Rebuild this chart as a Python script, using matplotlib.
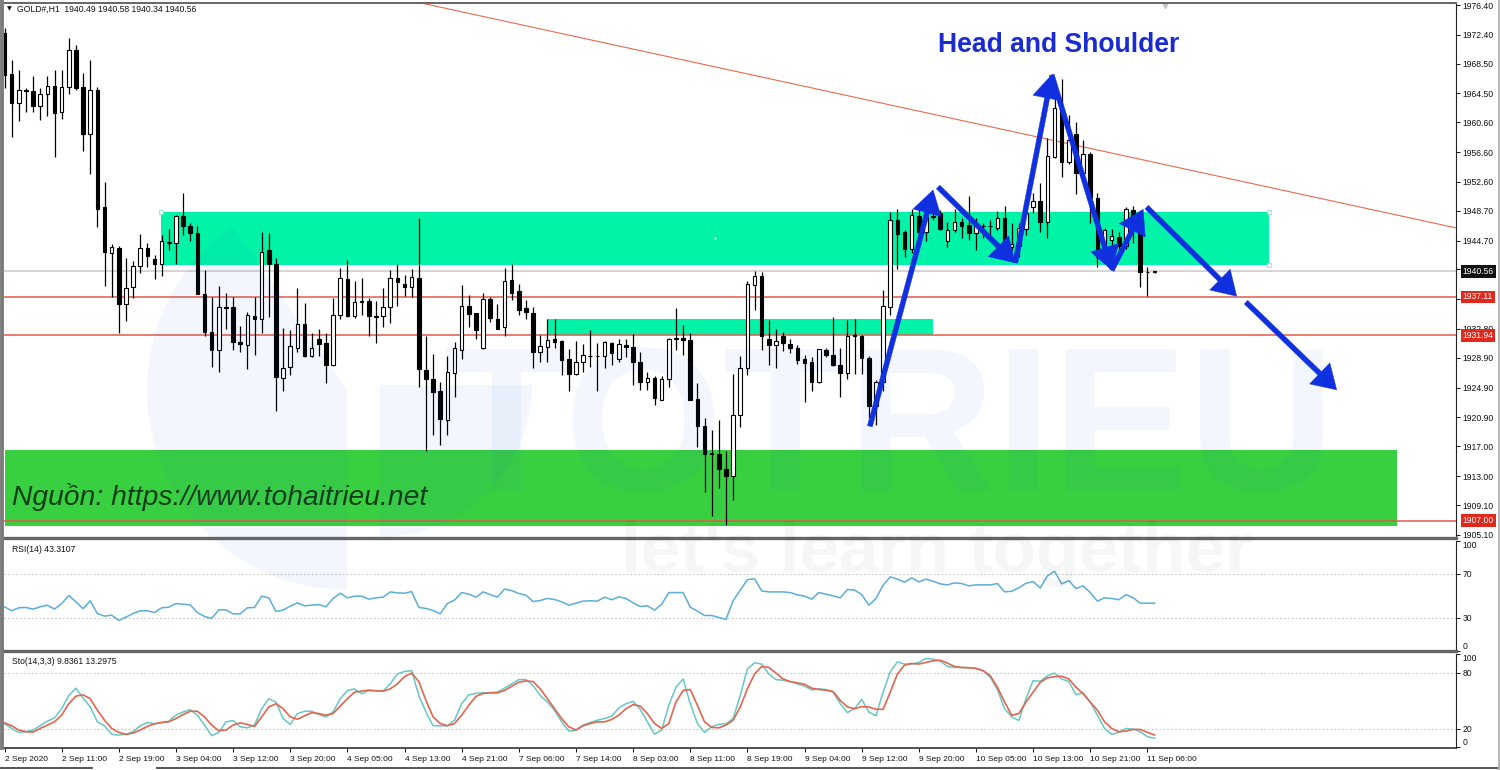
import matplotlib
matplotlib.use('Agg')
import matplotlib.pyplot as plt
import numpy as np
from matplotlib.lines import Line2D
from matplotlib.patches import Rectangle, Wedge
from matplotlib.transforms import IdentityTransform

# hourly candles, one entry per bar
opens = [1972.6,1967.1,1963.2,1965.0,1964.8,1962.8,1964.4,1965.5,1962.0,1965.4,
         1970.3,1965.4,1959.0,1964.9,1949.2,1943.0,1943.7,1936.2,1938.4,1941.3,
         1943.7,1942.2,1941.6,1944.5,1944.4,1948.0,1946.6,1945.7,1937.5,1932.4,
         1929.9,1935.8,1935.8,1931.0,1930.7,1934.6,1934.1,1943.4,1941.6,1926.2,
         1927.7,1930.2,1933.4,1929.1,1931.4,1930.9,1927.9,1934.7,1939.5,1934.5,
         1936.5,1936.6,1934.6,1934.5,1935.7,1939.7,1938.9,1938.5,1939.7,1927.3,
         1926.0,1924.4,1920.5,1926.9,1930.0,1935.9,1934.9,1930.2,1936.8,1934.2,
         1933.0,1939.4,1937.9,1935.6,1935.0,1929.7,1930.4,1931.4,1931.2,1928.7,
         1926.7,1928.3,1929.2,1929.2,1929.1,1930.9,1928.8,1930.7,1930.4,1928.4,
         1925.7,1926.2,1923.3,1926.0,1931.6,1931.6,1931.3,1923.4,1919.8,1916.1,
         1916.0,1914.0,1913.0,1921.2,1927.6,1938.7,1939.9,1931.5,1930.7,1931.8,
         1930.8,1930.2,1928.7,1928.3,1925.6,1930.0,1929.3,1928.0,1926.9,1932.0,
         1931.8,1928.9,1922.4,1925.6,1935.8,1947.4,1945.8,1943.6,1948.0,1945.9,
         1947.9,1948.4,1944.7,1946.1,1947.2,1946.8,1945.7,1946.7,1946.7,1946.4,
         1947.7,1943.8,1943.9,1946.2,1949.2,1950.0,1947.2,1956.0,1962.5,1955.3,
         1959.1,1953.8,1956.3,1950.4,1943.0,1944.8,1945.2,1943.9,1948.8,1945.8,
         1940.5,1940.49]
highs = [1973.3,1969.0,1967.6,1965.2,1966.8,1965.2,1966.8,1967.7,1967.6,1972.0,
         1971.0,1967.3,1969.0,1965.4,1952.6,1944.2,1943.9,1942.4,1941.9,1945.6,
         1944.4,1942.8,1945.4,1946.2,1948.2,1951.1,1947.1,1946.6,1940.7,1937.1,
         1938.6,1937.6,1937.1,1933.2,1935.1,1937.1,1945.8,1945.7,1942.4,1932.9,
         1932.6,1938.3,1936.3,1932.2,1932.8,1932.2,1936.9,1941.0,1942.1,1939.2,
         1939.7,1937.0,1936.5,1938.3,1940.7,1941.5,1940.1,1940.8,1947.7,1931.8,
         1929.4,1925.6,1929.1,1931.1,1938.7,1937.4,1935.0,1937.6,1937.1,1936.2,
         1941.0,1941.5,1938.9,1936.7,1935.8,1932.0,1934.1,1934.1,1931.3,1930.1,
         1931.2,1930.8,1932.7,1930.9,1931.2,1931.1,1931.5,1931.5,1932.1,1929.7,
         1927.0,1926.4,1926.4,1931.6,1935.6,1933.3,1932.2,1925.5,1920.8,1919.2,
         1920.6,1916.4,1926.7,1929.1,1939.2,1940.6,1940.5,1934.0,1932.8,1932.4,
         1931.4,1930.6,1929.3,1929.0,1930.1,1930.2,1934.4,1930.2,1934.0,1934.1,
         1932.0,1929.1,1925.9,1938.1,1948.5,1948.9,1946.1,1948.9,1948.9,1949.3,
         1949.0,1948.8,1947.2,1949.0,1947.7,1950.7,1947.7,1947.0,1947.5,1948.7,
         1949.4,1947.0,1947.0,1948.8,1951.1,1952.4,1958.5,1964.5,1966.5,1961.6,
         1960.7,1958.2,1956.6,1951.1,1946.4,1946.2,1945.9,1949.2,1949.4,1946.4,
         1941.2,1940.58]
lows = [1965.2,1958.6,1960.8,1962.0,1962.0,1960.9,1961.4,1956.0,1961.0,1964.4,
        1965.0,1956.7,1953.6,1946.5,1938.6,1937.1,1932.3,1933.9,1936.9,1940.3,
        1941.2,1939.5,1939.9,1943.4,1941.6,1945.4,1944.6,1937.5,1931.9,1927.7,
        1927.0,1932.8,1929.9,1929.7,1927.4,1929.3,1932.3,1934.4,1921.7,1924.4,
        1926.6,1929.7,1929.0,1929.0,1929.1,1925.5,1927.8,1934.1,1934.4,1934.3,
        1934.7,1931.8,1930.9,1933.1,1933.6,1935.9,1937.2,1937.1,1925.0,1916.4,
        1918.5,1917.2,1918.5,1923.6,1928.7,1933.1,1931.4,1930.1,1933.8,1932.8,
        1931.8,1936.7,1934.7,1934.1,1927.6,1928.3,1928.3,1930.2,1926.6,1924.4,
        1926.6,1927.0,1927.7,1924.4,1927.5,1928.0,1928.3,1929.0,1925.3,1924.6,
        1924.6,1922.6,1923.2,1925.0,1930.0,1929.3,1923.3,1916.9,1910.9,1907.6,
        1911.4,1906.4,1909.8,1919.6,1926.6,1935.3,1930.0,1928.0,1927.6,1929.8,
        1929.6,1928.1,1922.9,1924.4,1925.5,1929.0,1927.8,1923.7,1926.0,1926.7,
        1926.8,1920.8,1919.9,1924.4,1934.7,1940.8,1942.5,1943.0,1945.7,1944.6,
        1947.4,1946.1,1943.8,1945.9,1945.0,1944.8,1943.4,1945.0,1945.4,1946.1,
        1943.2,1943.4,1942.5,1945.5,1948.4,1945.9,1945.0,1955.8,1953.2,1955.0,
        1950.9,1953.5,1947.0,1941.1,1942.1,1943.6,1942.5,1943.6,1944.3,1938.5,
        1937.2,1940.34]
closes = [1967.0,1963.2,1965.0,1964.8,1962.8,1964.4,1965.5,1961.9,1965.4,1970.3,
          1965.2,1959.0,1964.9,1948.9,1943.1,1943.8,1936.2,1938.3,1941.3,1943.7,
          1942.6,1941.5,1944.7,1944.3,1948.0,1946.6,1945.7,1937.5,1932.4,1930.0,
          1935.8,1935.6,1931.0,1930.8,1934.7,1934.1,1943.2,1941.6,1926.3,1927.6,
          1930.5,1933.4,1929.1,1930.2,1930.8,1927.9,1934.7,1939.7,1934.5,1936.4,
          1936.4,1934.5,1934.4,1935.8,1939.7,1939.1,1938.5,1939.8,1927.4,1926.1,
          1924.3,1920.7,1927.0,1930.2,1935.9,1934.8,1932.7,1936.8,1934.3,1932.8,
          1939.3,1937.7,1935.4,1935.1,1929.7,1930.5,1931.3,1931.0,1928.6,1926.8,
          1928.3,1929.3,1929.2,1929.1,1931.0,1929.6,1930.8,1930.4,1928.4,1925.7,
          1926.2,1923.5,1926.1,1931.5,1931.4,1931.3,1923.3,1919.7,1915.9,1915.9,
          1914.0,1913.0,1921.2,1927.6,1938.9,1939.9,1931.8,1930.7,1931.2,1930.9,
          1930.2,1928.6,1928.2,1925.6,1930.1,1929.3,1928.0,1926.9,1931.9,1931.8,
          1928.9,1922.4,1925.7,1935.9,1947.5,1945.6,1943.6,1948.2,1945.9,1947.9,
          1948.0,1946.2,1946.1,1947.2,1946.6,1945.7,1946.6,1946.6,1946.6,1947.7,
          1944.2,1944.2,1946.4,1948.4,1950.0,1947.2,1956.1,1962.5,1955.3,1958.2,
          1953.8,1956.3,1950.4,1942.5,1946.1,1945.3,1943.9,1948.9,1947.9,1940.5,
          1940.5,1940.56]

rsi = [40.0,36.4,39.1,39.4,37.9,40.0,41.5,37.9,43.0,50.3,44.5,38.2,45.5,33.9,31.5,32.4,
       27.6,30.6,33.9,36.4,36.4,34.8,39.1,39.7,43.0,42.4,41.8,34.8,31.2,29.4,37.3,37.3,
       33.6,33.6,39.1,39.4,49.7,48.2,35.8,37.0,40.6,43.6,40.9,41.5,42.1,40.0,47.6,52.4,
       48.2,49.7,49.7,47.0,48.2,48.8,53.6,52.7,52.4,53.9,39.4,38.5,36.7,33.6,43.0,46.1,
       53.0,51.5,48.8,53.6,51.2,48.8,56.1,54.8,52.1,50.6,44.8,45.8,47.6,46.7,44.5,41.5,
       43.3,45.2,45.5,45.2,
       48.8,46.4,49.1,47.6,43.6,40.3,40.9,37.0,42.4,53.0,53.0,53.0,39.7,36.1,32.1,32.1,
       30.3,28.5,45.5,55.2,64.8,65.5,54.5,53.6,53.6,53.6,53.0,50.9,49.7,47.0,53.0,51.5,
       50.0,48.2,55.8,55.2,51.2,41.5,47.6,59.7,67.3,65.2,62.4,66.4,62.7,65.2,63.3,60.9,
       60.0,61.8,61.2,59.1,60.0,60.0,60.0,61.2,53.6,54.2,57.3,61.5,63.0,57.3,68.2,72.4,
       60.9,63.9,56.7,59.1,53.0,45.2,48.2,47.6,46.4,51.2,48.2,43.3,43.3,43.31]

sto_main = [25.6,20.3,16.1,16.8,18.6,23.2,28.1,31.6,41.5,55.6,63.4,52.8,43.3,27.4,23.2,14.0,
            13.3,14.0,16.8,23.2,26.7,25.3,26.7,28.1,34.5,38.0,40.5,34.5,23.9,12.6,16.1,27.4,
            28.8,22.1,21.0,23.9,41.5,52.1,48.6,30.9,24.6,36.2,38.7,38.7,35.2,32.7,38.0,52.1,
            60.9,62.7,57.4,60.9,60.6,60.6,68.0,78.6,81.4,82.1,55.6,38.0,23.2,23.2,23.2,29.2,
            46.8,56.3,57.8,58.5,58.5,59.2,63.4,68.0,72.6,72.6,66.2,55.6,48.6,39.8,27.4,17.5,
            18.2,23.9,26.7,29.2,
            30.9,33.4,42.2,46.8,49.3,40.8,27.4,14.3,18.6,45.1,64.5,73.3,46.8,25.6,16.1,22.1,
            24.6,25.3,30.9,55.6,83.9,90.6,89.2,78.6,72.6,71.9,70.5,68.0,65.5,61.6,62.7,62.0,
            59.2,46.8,37.3,41.5,51.4,38.0,33.8,59.2,81.1,91.6,89.2,89.2,90.9,95.2,94.5,92.4,
            86.7,85.6,85.6,85.3,84.6,82.1,75.1,62.0,41.5,32.7,28.8,52.1,71.5,70.8,76.8,79.6,
            73.3,70.5,56.3,58.5,48.6,34.5,20.3,14.0,16.1,20.3,19.6,16.8,11.5,9.84]
sto_signal = [26.3,23.2,18.6,16.8,16.5,20.3,23.9,27.4,34.5,46.8,54.9,56.3,52.1,39.8,29.2,20.3,
              16.1,14.0,15.4,18.6,22.5,25.3,26.7,27.4,30.9,35.2,38.7,38.7,32.7,23.9,17.9,18.6,
              23.9,26.3,24.6,22.5,32.7,43.3,46.8,41.5,32.7,30.2,33.8,37.3,36.2,34.5,36.2,44.3,
              52.1,59.2,60.2,61.3,60.6,60.2,62.7,68.0,75.8,79.6,70.5,50.3,32.7,25.6,23.2,25.6,
              34.5,45.1,54.6,57.8,58.5,58.5,60.9,65.5,69.8,71.2,70.5,62.7,52.1,41.5,30.9,22.1,
              18.6,23.2,25.6,27.4,
              27.4,29.9,34.5,41.5,45.8,44.3,36.2,25.6,20.3,25.6,48.6,60.9,62.0,45.1,27.4,21.4,
              21.0,23.9,29.2,43.3,62.7,78.6,86.7,85.6,79.6,73.3,70.5,69.1,67.6,63.4,62.0,61.3,
              59.9,50.3,43.3,41.5,43.6,43.3,40.8,40.8,59.2,78.6,88.1,89.9,89.2,90.9,92.7,93.4,
              90.2,86.7,85.6,85.3,84.6,82.1,76.8,64.5,48.6,34.5,36.2,48.6,59.2,69.8,74.4,75.8,
              76.1,73.3,64.5,57.4,48.6,39.8,27.4,20.3,16.8,17.5,19.3,19.3,16.1,13.3]

price_ticks = [1976.40,1972.40,1968.50,1964.50,1960.60,1956.60,1952.60,1948.70,1944.70,1940.80,
               1936.80,1932.80,1928.90,1924.90,1920.90,1917.00,1913.00,1909.10,1905.10]
date_labels = ['2 Sep 2020','2 Sep 11:00','2 Sep 19:00','3 Sep 04:00','3 Sep 12:00','3 Sep 20:00',
               '4 Sep 05:00','4 Sep 13:00','4 Sep 21:00','7 Sep 06:00','7 Sep 14:00','8 Sep 03:00',
               '8 Sep 11:00','8 Sep 19:00','9 Sep 04:00','9 Sep 12:00','9 Sep 20:00','10 Sep 05:00',
               '10 Sep 13:00','10 Sep 21:00','11 Sep 06:00']
bars_per_label = 8

# drawn objects in chart units (bar number, price)
red_levels = [1937.11, 1931.94, 1907.00]
last_price = 1940.56
trend_bars = [57.7, 203.2]
trend_prices = [1976.8, 1946.4]
zone_bars = [(21.9, 177.0), (76.0, 130.0), (0.0, 194.9)]
zone_prices = [(1941.4, 1948.55), (1931.94, 1934.1), (1906.3, 1916.5)]
zone_colors = ['#00f3a6', '#00f3a6', '#38d040']
arrow_from = [(121.15,1919.7),(130.7,1951.9),(141.5,1941.7),(146.6,1967.0),(155.0,1940.7),(159.9,1949.2),(173.8,1936.4)]
arrow_to = [(130.0,1951.5),(141.5,1941.7),(146.6,1967.0),(155.0,1940.7),(159.4,1948.9),(172.5,1937.2),(186.5,1924.6)]

W, H = 1500, 770
LBL = ['Liberation Sans', 'DejaVu Sans']
TS = 6.2
MARK_BLUE = (0.1, 0.4, 0.85)


def box(left, top, right, bottom):
    return [left / W, 1 - bottom / H, (right - left) / W, (bottom - top) / H]


plt.rcParams['font.family'] = LBL
fig = plt.figure(figsize=(15, 7.7), dpi=100)
ax = fig.add_axes(box(4, 3, 1456, 538))
ax_rsi = fig.add_axes(box(4, 541, 1456, 650.7))
ax_sto = fig.add_axes(box(4, 654, 1456, 748))

bars = np.arange(len(opens))
o, h, l, c = map(np.array, (opens, highs, lows, closes))
xlim = (-0.07, 203.2)
for a in (ax, ax_rsi, ax_sto):
    a.set_xlim(*xlim)
    a.yaxis.tick_right()
    a.tick_params(axis='y', labelsize=TS, length=3, width=0.7, pad=1.5, colors='#111111')
    a.spines['top'].set_visible(False)
    a.spines['left'].set_visible(False)
    a.spines['right'].set_linewidth(0.8)
    a.spines['right'].set_color('#222222')
    a.spines['bottom'].set_linewidth(2.4)
    a.spines['bottom'].set_color('#666666')

# main price panel
ax.set_ylim(1904.66, 1976.67)
ax.set_xticks([])
ax.set_yticks(price_ticks)
ax.set_yticklabels(['%.2f' % t for t in price_ticks])
ax.spines['top'].set_visible(True)
ax.spines['top'].set_linewidth(1.4)
ax.spines['top'].set_color('#666666')

for (x0, x1), (p0, p1), col in zip(zone_bars, zone_prices, zone_colors):
    ax.add_patch(Rectangle((x0, p0), x1 - x0, p1 - p0, fc=col, ec='none', zorder=1))
ax.plot([zone_bars[0][0], zone_bars[0][1], zone_bars[0][1]],
        [zone_prices[0][1], zone_prices[0][1], zone_prices[0][0]],
        ls='none', marker='s', ms=2.5, mfc='white', mec='#7fe8cc', mew=0.6, zorder=2)
ax.plot(np.mean(zone_bars[0]), np.mean(zone_prices[0]), ls='none', marker='s', ms=1.5,
        mfc='#d8fff2', mec='none', zorder=2)

ax.axhline(last_price, color='#d2d2d2', lw=1.3, zorder=2)
for lev in red_levels:
    ax.axhline(lev, color='#e4584a', lw=1.1, zorder=2)
ax.plot(trend_bars, trend_prices, color='#e8694f', lw=0.8, zorder=2)
ax.plot(162.4, 1976.3, ls='none', marker='v', ms=3, color='#c4c4c4', zorder=2, clip_on=False)

ax.vlines(bars, l, h, color='black', lw=0.9, zorder=3)
up = c >= o
ax.bar(bars[up], (c - o)[up], bottom=o[up], width=0.5, fc='white', ec='black', lw=0.8, zorder=4)
ax.bar(bars[~up], (o - c)[~up], bottom=c[~up], width=0.5, fc='black', ec='black', lw=0.8, zorder=4)

for start, end in zip(arrow_from, arrow_to):
    ax.annotate('', xy=end, xytext=start, zorder=6,
                arrowprops=dict(arrowstyle='simple,head_length=1.7,head_width=2.1,tail_width=0.36',
                                mutation_scale=10, shrinkA=0, shrinkB=0, fc='#1030e0', ec='#1030e0', lw=0.3))

ax.text(0.35, 1975.85, '\u25bc', fontsize=4.5, va='center', ha='left',
        family=['DejaVu Sans'], color='#111111', zorder=7)
ax.text(1.8, 1975.85, 'GOLD#,H1  1940.49 1940.58 1940.34 1940.56', fontsize=TS, va='center',
        ha='left', color='#111111', zorder=7)
ax.text(130.65, 1970.95, 'Head and Shoulder', fontsize=19.1, fontweight='bold', color='#1a2bd0',
        va='center', ha='left', zorder=7)
ax.text(1.0, 1910.2, 'Ngu\u1ed3n: https://www.tohaitrieu.net', fontsize=20.3, style='italic',
        color='#123d16', va='center', ha='left', zorder=7)

# price tags over the axis
tags = [(last_price, '#111111')] + [(lev, '#e0281c') for lev in red_levels]
for price, col in tags:
    ax.annotate('%.2f' % price, xy=(1, price), xycoords=('axes fraction', 'data'),
                xytext=(6.5, 0), textcoords='offset pixels', fontsize=TS, color='white', va='center', ha='left',
                annotation_clip=False, zorder=8,
                bbox=dict(boxstyle='square,pad=0.22', fc=col, ec='none'))

# RSI panel
ax_rsi.set_ylim(0, 100)
ax_rsi.set_xticks([])
ax_rsi.set_yticks([100, 70, 30, 0])
for lev in (70, 30):
    ax_rsi.axhline(lev, color='#c4c4c4', lw=0.8, ls=(0, (1.5, 2)), zorder=1)
ax_rsi.plot(bars, rsi, color='#5aaed8', lw=1.1, zorder=3)
ax_rsi.text(1.0, 92.5, 'RSI(14) 43.3107', fontsize=TS, va='center', ha='left', color='#111111')

# stochastic panel
ax_sto.set_ylim(-0.6, 100)
ax_sto.set_yticks([100, 80, 20, 0])
for lev in (80, 20):
    ax_sto.axhline(lev, color='#c4c4c4', lw=0.8, ls=(0, (1.5, 2)), zorder=1)
ax_sto.plot(bars, sto_main, color='#66c8c4', lw=1.1, zorder=3)
ax_sto.plot(bars, sto_signal, color='#e2654e', lw=1.2, zorder=4)
ax_sto.text(1.0, 92.5, 'Sto(14,3,3) 9.8361 13.2975', fontsize=TS, va='center', ha='left', color='#111111')
ax_sto.spines['bottom'].set_linewidth(1.2)
ax_sto.spines['bottom'].set_color('#333333')
date_ticks = np.arange(len(date_labels)) * bars_per_label
ax_sto.set_xticks(date_ticks)
ax_sto.set_xticklabels(date_labels, ha='left')
ax_sto.tick_params(axis='x', labelsize=6.0, length=3, width=0.7, pad=3, colors='#111111')

for a in (ax_rsi, ax_sto):
    labs = a.get_yticklabels()
    labs[0].set_va('top')
    labs[-1].set_va('bottom')

# window borders around the panels
for xs, ys, col, lw in [((0, 92), (768, 768), '#555555', 1.4), ((157, 1500), (768, 768), '#555555', 1.4),
                        ((1498.5, 1498.5), (0, 770), '#b5b5b5', 1.4), ((2, 2), (0, 748), '#7c7c7c', 2.8)]:
    fig.add_artist(Line2D([x / W for x in xs], [1 - y / H for y in ys], color=col, lw=lw, zorder=20))

# watermark on top of everything
for centre, radius, t0, t1 in [((347, 390), 200, 125, 270), ((380, 385), 152, 270, 360)]:
    fig.add_artist(Wedge((centre[0], H - centre[1]), radius, t0, t1, fc=MARK_BLUE, ec='none', alpha=0.05,
                         zorder=15, transform=IdentityTransform()))
fig.text(1336 / W, 1 - 490 / H, 'TOTRIEU', fontsize=147, family=['Liberation Sans'],
         fontweight='bold', color=MARK_BLUE, alpha=0.05, ha='right', va='baseline', zorder=16)
fig.text(937 / W, 1 - 572 / H, "let's learn together", fontsize=51, family=['Liberation Sans'],
         fontweight='bold', color='#000000', alpha=0.035, ha='center', va='baseline', zorder=16)

fig.savefig('out.png', dpi=100)
